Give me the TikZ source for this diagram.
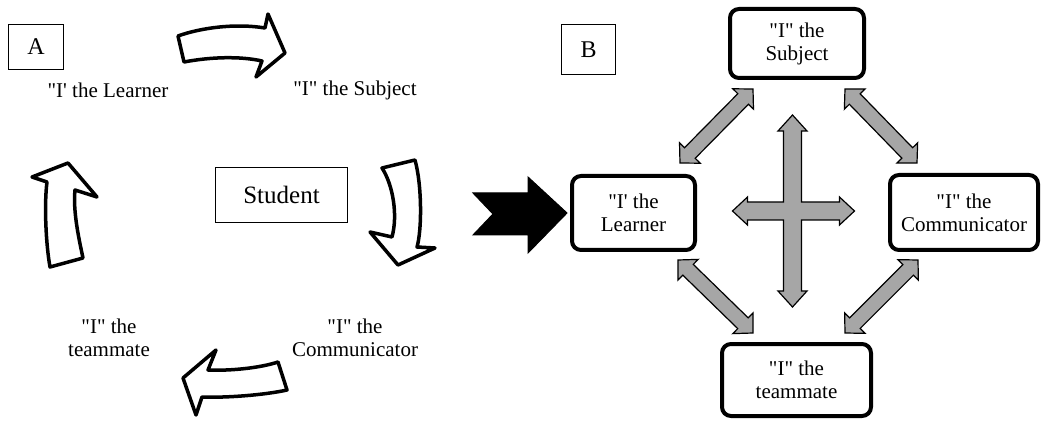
\documentclass[tikz,border=0pt]{standalone}
\usepackage{fontspec}
\setmainfont{Liberation Serif}[Ligatures=TeXOff]
\usetikzlibrary{calc}

\definecolor{arrowgray}{HTML}{A6A6A6}

% grey block arrow with a head at both ends, from #1 to #2
\newcommand\dblarrow[2]{%
  \path ($(#1)!14pt!(#2)$) coordinate (ha) ($(#2)!14pt!(#1)$) coordinate (hb);
  \filldraw[garrow] (#1) -- ($(ha)!14.5pt!90:(#2)$) -- ($(ha)!7.5pt!90:(#2)$)
    -- ($(hb)!7.5pt!-90:(#1)$) -- ($(hb)!14.5pt!-90:(#1)$) -- (#2)
    -- ($(hb)!14.5pt!90:(#1)$) -- ($(hb)!7.5pt!90:(#1)$)
    -- ($(ha)!7.5pt!-90:(#2)$) -- ($(ha)!14.5pt!-90:(#2)$) -- cycle;
}

\begin{document}
\begin{tikzpicture}[x=1pt, y=-1pt,
  every node/.style={font=\fontsize{21}{23}\selectfont, align=center},
  tag/.style={draw, line width=0.8pt, font=\fontsize{24}{26}\selectfont},
  rbox/.style={draw, line width=4pt, rounded corners=9pt, fill=white},
  cyc/.style={draw, line width=3.5pt, fill=white, line join=round},
  garrow/.style={draw, line width=1.2pt, fill=arrowgray, line join=miter}]
	\useasboundingbox (0,0) rectangle (1042,422);

	% A: the cycle round the student
	\node[tag, minimum width=55, minimum height=45] (tagA) at (36,47) {A};
	\node[tag, minimum width=132, minimum height=55, font=\fontsize{25}{27}\selectfont] (student) at (281.5,195) {Student};
	\node (lLearner) at (108,90) {"I' the Learner};
	\node (lSubject) at (355,90) {"I" the Subject};
	\node (lComm) at (355,338) {"I" the\\Communicator};
	\node (lTeam) at (109,338) {"I" the\\teammate};

	\filldraw[cyc] (178,36) .. controls (200,28) and (235,23) .. (265,28) -- (268,14) -- (285,53)
	  -- (256,77) -- (262,61) .. controls (240,56) and (210,57) .. (184,62) -- cycle;
	\filldraw[cyc] (382,168) -- (415,160) .. controls (422,185) and (422,230) .. (417,247) -- (435,248)
	  -- (398,265) -- (370,232) -- (392,237) .. controls (398,215) and (393,185) .. cycle;
	\filldraw[cyc] (278,362) -- (287,390) .. controls (265,395) and (225,398) .. (202,397) -- (196,415)
	  -- (183,378) -- (216,350) -- (208,370) .. controls (230,371) and (260,368) .. cycle;
	\filldraw[cyc] (50,267) -- (83,258) .. controls (78,235) and (73,210) .. (75,190) -- (97,197)
	  -- (68,163) -- (32,177) -- (47,182) .. controls (44,205) and (46,245) .. cycle;

	% B: the four sides of the student
	\node[tag, minimum width=54, minimum height=50] (tagB) at (588.5,49.5) {B};
	\node[rbox, minimum width=134, minimum height=69] (subj) at (797,43.5) {"I" the\\Subject};
	\node[rbox, minimum width=123, minimum height=74] (learn) at (633.5,213) {"I' the\\Learner};
	\node[rbox, minimum width=148, minimum height=75] (comm) at (964,212.5) {"I" the\\Communicator};
	\node[rbox, minimum width=149, minimum height=72] (team) at (796.5,380) {"I" the\\teammate};

	\filldraw[fill=black, line width=1pt, line join=miter] (473,193) -- (528,193) -- (528,177)
	  -- (567,213) -- (528,253) -- (528,235) -- (473,235) -- (493,214) -- cycle;

	\coordinate (sl1) at (753,89);  \coordinate (sl2) at (680,163);
	\coordinate (sc1) at (845,89);  \coordinate (sc2) at (917,163);
	\coordinate (lt1) at (678,260); \coordinate (lt2) at (753,333);
	\coordinate (ct1) at (918,260); \coordinate (ct2) at (845,333);
	\dblarrow{sl1}{sl2}
	\dblarrow{sc1}{sc2}
	\dblarrow{lt1}{lt2}
	\dblarrow{ct1}{ct2}

	\coordinate (hub) at (792.5,211);
	\filldraw[garrow, shift={(hub)}] (0,-96) -- (14.5,-80) -- (9,-80) -- (9,-9) -- (47,-9) -- (47,-14)
	  -- (62,0) -- (47,14) -- (47,9) -- (9,9) -- (9,80) -- (14.5,80) -- (0,96) -- (-14.5,80) -- (-9,80)
	  -- (-9,9) -- (-45,9) -- (-45,14) -- (-60,0) -- (-45,-14) -- (-45,-9) -- (-9,-9) -- (-9,-80)
	  -- (-14.5,-80) -- cycle;
\end{tikzpicture}
\end{document}
